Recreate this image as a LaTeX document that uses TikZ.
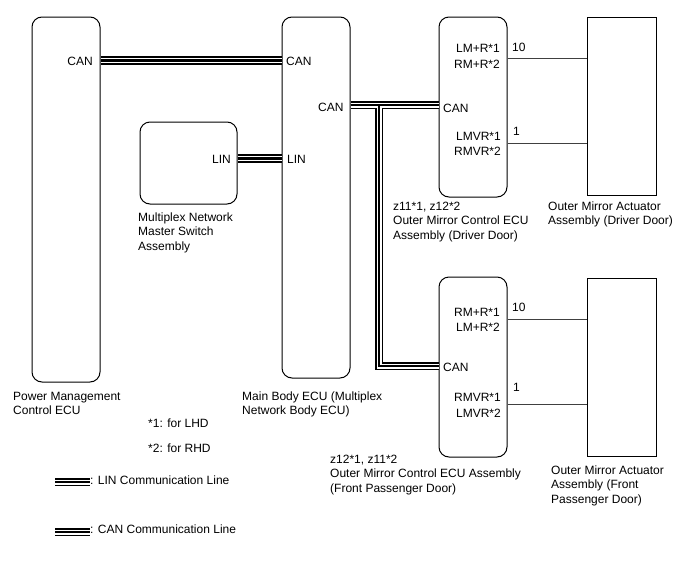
\documentclass[tikz,border=0pt]{standalone}
\usepackage{fontspec}
\setmainfont{Liberation Sans}

\begin{document}
\begin{tikzpicture}[x=1pt,y=-1pt]
\tikzstyle{unit}=[draw,line width=1pt,rounded corners=10pt,inner sep=0pt]
\tikzstyle{part}=[draw,line width=1pt,inner sep=0pt]
\tikzstyle{bus}=[white,line width=5pt,preaction={draw,black,line width=8.5pt},postaction={draw,black,line width=2.2pt}]
\tikzstyle{wire}=[draw,line width=0.8pt,black!75]
\tikzstyle{txt}=[font=\fontsize{12}{14.5}\selectfont,inner sep=0pt,align=left,anchor=base west]
\tikzstyle{pin}=[font=\fontsize{12}{15.5}\selectfont,inner sep=0pt,align=right,anchor=base east]
\useasboundingbox (0,0) rectangle (688,560);

\node[unit,minimum width=68pt,minimum height=365pt] (pm) at (66,199.5) {};
\node[unit,minimum width=68pt,minimum height=361pt] (mb) at (316,197.5) {};
\node[unit,minimum width=97pt,minimum height=82pt] (mux) at (188.5,163) {};
\node[unit,minimum width=68pt,minimum height=180pt] (drv) at (473,107) {};
\node[unit,minimum width=68pt,minimum height=180pt] (pas) at (473,367) {};
\node[part,minimum width=69pt,minimum height=178pt] (act1) at (621.5,106) {};
\node[part,minimum width=69pt,minimum height=178pt] (act2) at (621.5,367) {};

\node[pin] (pmcan) at (93,65) {CAN};
\node[txt] (mbcan) at (286,65) {CAN};
\node[txt] (mbcan2) at (318,111) {CAN};
\node[pin] (muxlin) at (231,163) {LIN};
\node[txt] (mblin) at (287,163) {LIN};
\node[txt] (drvcan) at (443,112) {CAN};
\node[txt] (pascan) at (443,371) {CAN};

\node[pin] (drvp1) at (500,68) {LM+R*1\\RM+R*2};
\node[pin] (drvp2) at (501,155.5) {LMVR*1\\RMVR*2};
\node[pin] (pasp1) at (500,331.5) {RM+R*1\\LM+R*2};
\node[pin] (pasp2) at (501,417) {RMVR*1\\LMVR*2};
\node[txt] (n10a) at (512,51) {10};
\node[txt] (n1a) at (513,135) {1};
\node[txt] (n10b) at (512,311) {10};
\node[txt] (n1b) at (513,391) {1};

\node[txt] (pmname) at (13,414.5) {Power Management\\Control ECU};
\node[txt] (mbname) at (242,414.5) {Main Body ECU (Multiplex\\Network Body ECU)};
\node[txt] (muxname) at (138,250) {Multiplex Network\\Master Switch\\Assembly};
\node[txt] (drvname) at (393,239) {z11*1, z12*2\\Outer Mirror Control ECU\\Assembly (Driver Door)};
\node[txt] (pasname) at (330,492) {z12*1, z11*2\\Outer Mirror Control ECU Assembly\\(Front Passenger Door)};
\node[txt] (act1name) at (548,224.5) {Outer Mirror Actuator\\Assembly (Driver Door)};
\node[txt] (act2name) at (551,503) {Outer Mirror Actuator\\Assembly (Front\\Passenger Door)};
\node[txt] (note1) at (148,427) {*1: for LHD};
\node[txt] (note2) at (148,452) {*2: for RHD};
\node[txt] (linkey) at (90,484) {: LIN Communication Line};
\node[txt] (cankey) at (90,533) {: CAN Communication Line};

\coordinate (rowa) at (0,60.5);
\coordinate (rowb) at (0,105);
\coordinate (rowc) at (0,366);
\coordinate (rowl) at (0,158.5);
\coordinate (tee) at (379,105);
\coordinate (linsw) at (55,482);
\coordinate (cansw) at (55,532);

\draw[bus] (pm.east |- rowa) -- (mb.west |- rowa);
\draw[bus] (mux.east |- rowl) -- (mb.west |- rowl);
\draw[bus] (mb.east |- rowb) -- (drv.west |- rowb) (tee) |- (pas.west |- rowc);
\draw[bus] (linsw) -- (linsw -| linkey.west);
\draw[bus] (cansw) -- (cansw -| cankey.west);

\path[wire] (drv.east |- 0,58) -- (act1.west |- 0,58);
\path[wire] (drv.east |- 0,143) -- (act1.west |- 0,143);
\path[wire] (pas.east |- 0,319) -- (act2.west |- 0,319);
\path[wire] (pas.east |- 0,404) -- (act2.west |- 0,404);
\end{tikzpicture}
\end{document}
